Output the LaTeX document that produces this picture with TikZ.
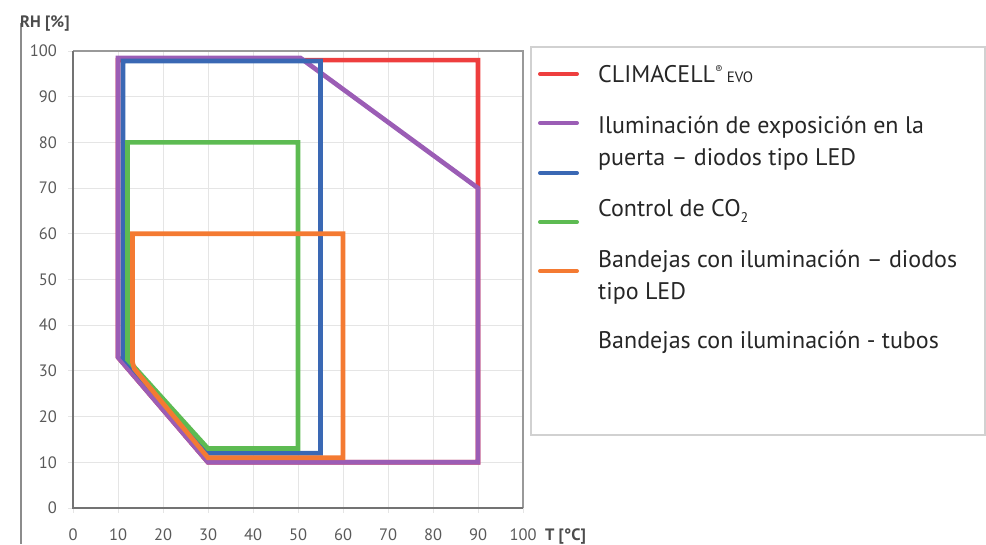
\documentclass[tikz,border=0pt]{standalone}
\usepackage{fontspec}
\setmainfont{PT Sans}
\definecolor{cred}{HTML}{EE3E3E}
\definecolor{cpurple}{HTML}{9B5DB5}
\definecolor{cblue}{HTML}{3A68B4}
\definecolor{cgreen}{HTML}{5DBB52}
\definecolor{corange}{HTML}{F47A32}
\begin{document}
\begin{tikzpicture}[x=1pt,y=1pt,
  gridline/.style={draw=black!10, line width=0.8pt},
  curve/.style={line width=4.7pt, line join=miter},
  legswatch/.style={line width=4pt, line cap=round},
  legtext/.style={anchor=base west, inner sep=0pt, font=\fontsize{24}{28}\selectfont, text=black!85},
  ticklab/.style={font=\fontsize{16.5}{18}\selectfont, text=black!65, inner sep=0pt},
  axlab/.style={font=\fontsize{16.5}{18}\selectfont\bfseries, text=black!70, inner sep=0pt}]
\useasboundingbox (0,0) rectangle (986,544);
% outer left line
\draw[draw=black!45, line width=1.5pt] (21,521) -- (21,0);
\begin{scope}[shift={(73,36)}, x=4.5pt, y=4.57pt]
  \foreach \t in {0,10,...,100} \draw[gridline] (\t,-1.1) -- (\t,100);
  \foreach \r in {0,10,...,100} \draw[gridline] (-1.1,\r) -- (100,\r);
  \draw[draw=black!40, line width=1.5pt] (0,100) -- (100,100) -- (100,0);
  \draw[draw=black!55, line width=2pt] (0,100) -- (0,0) -- (100,0);
  % ranges
  \draw[curve, cred] (10,33) -- (10,98) -- (90,98) -- (90,10) -- (30,10) -- cycle;
  \draw[curve, cpurple] (10,33) -- (10,98.5) -- (50.5,98.5) -- (90,70) -- (90,10) -- (30,10) -- cycle;
  \draw[curve, cblue] (11.1,33) -- (11.1,97.8) -- (55,97.8) -- (55,12) -- (30,12) -- cycle;
  \draw[curve, cgreen] (12.1,32.5) -- (12.1,80) -- (50,80) -- (50,13) -- (30,13) -- cycle;
  \draw[curve, corange] (13.2,32) -- (13.2,60) -- (60,60) -- (60,11) -- (30,11) -- (13.6,30.5) -- cycle;
\end{scope}
% tick labels
\foreach \t in {0,10,...,100}
  \node[ticklab, anchor=base] (xt\t) at ({73+4.5*\t}, 4) {\t};
\foreach \r in {0,10,...,100}
  \node[ticklab, anchor=east] (yt\r) at (57, {36+4.57*\r}) {\r};
\node[axlab, anchor=west] (rh) at (20,520) {RH [\%]};
\node[axlab, anchor=base west] (tc) at (545,4) {T [°C]};
% legend
\draw[draw=black!18, line width=2.5pt] (531,497) rectangle (985,109);
\draw[legswatch, cred] (540,470) -- (577,470);
\draw[legswatch, cpurple] (540,421) -- (577,421);
\draw[legswatch, cblue] (540,371) -- (577,371);
\draw[legswatch, cgreen] (540,322) -- (577,322);
\draw[legswatch, corange] (540,273) -- (577,273);
\node[legtext] (l1) at (598,461) {CLIMACELL\raisebox{9pt}{\fontsize{11}{11}\selectfont ®}\,{\fontsize{15}{15}\selectfont EVO}};
\node[legtext] (l2a) at (598,410) {Iluminación de exposición en la};
\node[legtext] (l2b) at (598,378) {puerta – diodos tipo LED};
\node[legtext] (l3) at (598,327) {Control de CO\raisebox{-6pt}{\fontsize{14}{14}\selectfont 2}};
\node[legtext] (l4a) at (598,276) {Bandejas con iluminación – diodos};
\node[legtext] (l4b) at (598,244) {tipo LED};
\node[legtext] (l5) at (598,195) {Bandejas con iluminación - tubos};
\end{tikzpicture}
\end{document}
